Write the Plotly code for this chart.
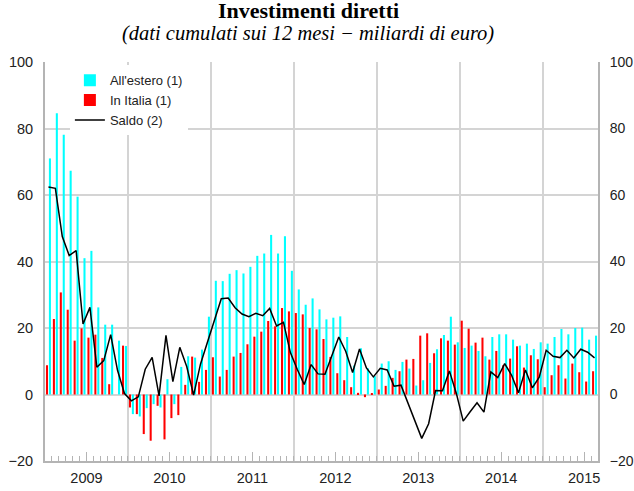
import plotly.graph_objects as go

years = [2009, 2010, 2011, 2012, 2013, 2014, 2015]

# monthly, Jan 2009 - Aug 2015 (12-month cumulated, billions of euro)
estero = [71.0, 84.6, 78.1, 67.3, 59.5, 41.0, 43.2, 26.2, 21.0, 21.0, 16.2, 14.6,
          -5.9, -6.6, -4.1, -2.9, -3.9, 4.6, -2.9, 8.3, 11.5, 11.1, 13.5, 23.4,
          34.2, 34.1, 36.3, 37.4, 36.4, 38.4, 41.7, 42.4, 48.0, 42.4, 47.6, 37.2,
          31.6, 27.0, 28.9, 25.6, 22.6, 23.1, 23.5, 17.3, 8.7, 13.9, 7.9, 5.5,
          9.3, 10.0, 7.4, 9.8, 7.8, 2.7, 4.3, 9.5, 13.6, 17.9, 23.4, 15.7,
          14.0, 14.7, 13.1, 11.5, 17.3, 18.1, 18.1, 16.5, 14.7, 15.3, 13.7, 15.7,
          15.3, 17.3, 19.7, 18.1, 20.0, 20.1, 16.5, 17.7]

italia = [8.8, 22.7, 30.7, 25.5, 16.2, 19.9, 17.1, 18.0, 11.0, 3.1, None, 14.7,
          -3.9, -5.9, -11.9, -13.9, -3.4, -13.5, -7.1, -6.2, 2.9, 11.4, 3.8, 7.4,
          11.2, 5.4, 7.4, 11.4, 12.5, 15.1, 17.4, 18.9, 22.1, 20.5, 26.0, 25.0,
          24.5, 24.1, 20.0, 19.6, 16.7, 11.3, 6.4, 4.3, 2.2, 0.5, -0.8, 0.4,
          1.5, 2.6, 5.0, 7.0, 10.5, 10.7, 17.7, 18.4, 12.4, 16.9, 16.2, 15.0,
          22.2, 19.8, 15.6, 17.1, 10.5, 13.1, 8.8, 10.8, 14.5, 8.1, 11.8, 10.6,
          2.2, 5.8, 8.8, 4.8, 9.3, 6.7, 3.9, 7.0]

saldo = [62.4, 62.0, 47.5, 41.8, 43.3, 21.2, 26.2, 8.2, 10.2, 18.0, 7.2, 0.3,
         -1.9, -0.7, 7.6, 11.2, -0.4, 17.8, 3.9, 14.2, 8.4, -0.2, 9.2, 15.6,
         22.5, 28.8, 29.0, 26.1, 24.2, 23.4, 24.4, 23.7, 25.9, 20.6, 21.7, 12.6,
         7.5, 3.0, 9.0, 6.2, 6.1, 11.6, 17.3, 13.0, 6.6, 13.7, 8.0, 5.3,
         7.9, 7.4, 2.5, 2.8, -2.5, -7.9, -13.2, -8.8, 1.2, 1.1, 7.1, 0.4,
         -8.0, -5.2, -2.5, -5.3, 6.8, 5.1, 9.3, 5.8, 0.5, 7.4, 2.0, 5.2,
         13.3, 11.5, 11.1, 13.3, 11.0, 13.6, 12.7, 11.0]

n = len(saldo)
x = list(range(n))

GRID = "#d4d4d4"
AXIS = "#b4b4b4"
TICKFONT = dict(family="Liberation Sans, Arial, sans-serif", size=14.5, color="#222222")

fig = go.Figure()
fig.add_trace(go.Bar(x=x, y=italia, name="In Italia (1)", marker_color="#ff0000",
                     marker_line_width=0, legendrank=2))
fig.add_trace(go.Bar(x=x, y=estero, name="All'estero (1)", marker_color="#00ffff",
                     marker_line_width=0, legendrank=1))
fig.add_trace(go.Scatter(x=x, y=saldo, name="Saldo (2)", mode="lines",
                         line=dict(color="#000000", width=1.5), legendrank=3))
# invisible trace to carry the right-hand y axis and year gridlines
fig.add_trace(go.Scatter(x=[x[0]], y=[None], xaxis="x2", yaxis="y2",
                         showlegend=False, hoverinfo="skip"))

year_mid = [12 * i + 5.5 for i in range(len(years))]
year_bounds = [12 * i - 0.5 for i in range(1, len(years))]
xr = [-0.5, n - 0.5]

fig.update_layout(
    width=634, height=491,
    margin=dict(l=45, r=36, t=62, b=30, autoexpand=False),
    paper_bgcolor="white", plot_bgcolor="white",
    barmode="group", bargap=0.15, bargroupgap=0.3,
    showlegend=True,
    legend=dict(x=0.045, y=0.992, xanchor="left", yanchor="top",
                bgcolor="white", borderwidth=0,
                font=dict(family="Liberation Sans, Arial, sans-serif", size=13, color="#222222"),
                tracegroupgap=0, itemwidth=30),
    xaxis=dict(range=xr, showgrid=False, zeroline=False, automargin=False,
               tickvals=year_mid, ticktext=[str(y) for y in years],
               ticks="inside", ticklen=9, tickcolor=AXIS, tickwidth=1,
               showline=True, linecolor=AXIS, linewidth=2,
               tickfont=TICKFONT, ticklabelstandoff=3,
               minor=dict(ticks="inside", ticklen=5, tickcolor=AXIS, tick0=-0.5, dtick=1,
                          showgrid=False)),
    xaxis2=dict(range=xr, overlaying="x", matches="x", showgrid=True, gridcolor=GRID,
                gridwidth=1.5, tickvals=year_bounds, showticklabels=False, ticks="",
                zeroline=False, showline=False, automargin=False),
    yaxis=dict(range=[-20, 100], tickvals=[-20, 0, 20, 40, 60, 80, 100],
               showgrid=True, gridcolor=GRID, gridwidth=1.5, zeroline=False,
               showline=True, linecolor=AXIS, linewidth=2, ticks="", automargin=False,
               tickfont=TICKFONT, ticklabelstandoff=7),
    yaxis2=dict(range=[-20, 100], tickvals=[-20, 0, 20, 40, 60, 80, 100],
                overlaying="y", side="right", showgrid=False, zeroline=False,
                showline=True, linecolor=AXIS, linewidth=2, ticks="", automargin=False,
                tickfont=dict(family="Liberation Sans, Arial, sans-serif", size=14, color="#222222"),
                ticklabelstandoff=7),
    annotations=[
        dict(text="<b>Investimenti diretti</b>", xref="paper", yref="paper",
             x=0.4756, y=1, yanchor="bottom", yshift=37, showarrow=False,
             font=dict(family="Liberation Serif, Times New Roman, serif", size=22, color="#000000")),
        dict(text="<i>(dati cumulati sui 12 mesi \u2212 miliardi di euro)</i>", xref="paper", yref="paper",
             x=0.4756, y=1, yanchor="bottom", yshift=15, showarrow=False,
             font=dict(family="Liberation Serif, Times New Roman, serif", size=20.5, color="#000000")),
    ],
)

fig.write_html("out.html", config={"displayModeBar": False},
               post_script="document.body.style.margin='0';")
